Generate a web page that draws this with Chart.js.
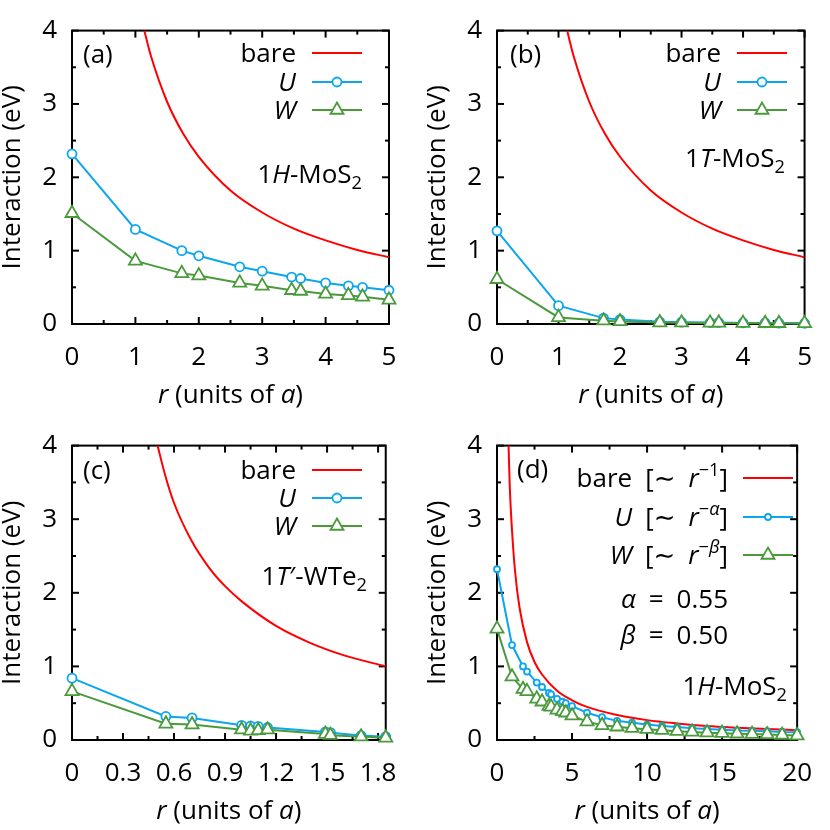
<!DOCTYPE html>
<html>
<head>
<meta charset="utf-8">
<script src="https://cdn.jsdelivr.net/npm/chart.js@4.4.1/dist/chart.umd.min.js"></script>
<style>
  html, body { margin: 0; padding: 0; background: #fff; }
  #fig { position: relative; width: 830px; height: 830px; }
  #fig canvas { position: absolute; }
</style>
</head>
<body>
<div id="fig">
  <canvas id="pa" width="415" height="415" style="left:0;top:0"></canvas>
  <canvas id="pb" width="415" height="415" style="left:415px;top:0"></canvas>
  <canvas id="pc" width="415" height="415" style="left:0;top:415px"></canvas>
  <canvas id="pd" width="415" height="415" style="left:415px;top:415px"></canvas>
</div>
<script>
// Four gnuplot-style panels: bare / U / W interaction vs distance r.

const FAMILY = '"Open Sans", "DejaVu Sans", sans-serif';
const FS = 26;
const RED = "#ff0000";
const BLUE = "#0ca6ef";
const GREEN = "#4a9a3b";

// neighbour distances (units of a)
const rHex = [0, 1, 1.732, 2, 2.646, 3, 3.464, 3.606, 4, 4.359, 4.583, 5];
const rFar = [6, 7, 8, 9, 10, 11, 12, 13, 14, 15, 16, 17, 18, 19, 20];
const rWTe2 = [0, 0.552, 0.706, 0.997, 1.05, 1.095, 1.15, 1.49, 1.52, 1.70, 1.845];

// (a) 1H-MoS2
const uHMoS2 = [2.32, 1.29, 1.00, 0.93, 0.78, 0.72, 0.64, 0.62, 0.56, 0.52, 0.50, 0.46];
const wHMoS2 = [1.51, 0.86, 0.69, 0.66, 0.56, 0.52, 0.46, 0.45, 0.41, 0.39, 0.37, 0.33];
// (b) 1T-MoS2
const uTMoS2 = [1.27, 0.25, 0.08, 0.06, 0.03, 0.025, 0.02, 0.02, 0.015, 0.015, 0.012, 0.01];
const wTMoS2 = [0.61, 0.09, 0.045, 0.035, 0.02, 0.018, 0.015, 0.015, 0.012, 0.01, 0.01, 0.008];
// (c) 1T'-WTe2
const uWTe2 = [0.84, 0.32, 0.30, 0.20, 0.19, 0.185, 0.17, 0.11, 0.10, 0.06, 0.045];
const wWTe2 = [0.66, 0.22, 0.21, 0.14, 0.125, 0.13, 0.14, 0.08, 0.065, 0.045, 0.03];
// (d) 1H-MoS2 out to r = 20
const uFar = [0.37, 0.31, 0.26, 0.235, 0.21, 0.19, 0.175, 0.16, 0.15, 0.14, 0.13, 0.125, 0.12, 0.11, 0.105];
const wFar = [0.25, 0.20, 0.18, 0.16, 0.147, 0.133, 0.12, 0.11, 0.10, 0.093, 0.085, 0.08, 0.075, 0.068, 0.06];

// bare Coulomb curves
const bareMoS2R = [1.14, 1.25, 1.5, 1.75, 2, 2.5, 3, 3.5, 4, 4.5, 5];
const bareMoS2V = [4.0, 3.64, 3.03, 2.6, 2.28, 1.82, 1.52, 1.3, 1.14, 1.01, 0.91];
const bareWTe2R = [0.503, 0.55, 0.6, 0.7, 0.8, 0.9, 1.0, 1.2, 1.4, 1.6, 1.845];
const bareWTe2V = [4.0, 3.58, 3.22, 2.72, 2.36, 2.09, 1.88, 1.55, 1.32, 1.15, 1.0];
const bareFarR = [0.77, 0.85, 1, 1.2, 1.5, 2, 2.5, 3, 4, 5, 6, 8, 10, 12, 14, 16, 18, 20];
const bareFarV = [4.0, 3.45, 2.85, 2.3, 1.8, 1.33, 1.06, 0.89, 0.67, 0.54, 0.45, 0.34, 0.27, 0.225, 0.19, 0.167, 0.148, 0.133];

// tick values
const yTicks = [0, 1, 2, 3, 4];
const xTicksMoS2 = [0, 1, 2, 3, 4, 5];
const xTicksWTe2 = [0, 0.3, 0.6, 0.9, 1.2, 1.5, 1.8];
const xTicksFar = [0, 5, 10, 15, 20];

// text pieces: [text, flags] with i = italic, b = subscript, p = superscript
const SP = "\u2002";
const X_TITLE = [["r", "i"], [" (units of "], ["a", "i"], [")"]];
const LEGEND_SHORT = [[["bare"]], [["U", "i"]], [["W", "i"]]];
const LEGEND_LONG = [
  [["bare" + SP + "[∼" + SP], ["r", "i"], ["−1", "p"], ["]"]],
  [["U", "i"], [SP + "[∼" + SP], ["r", "i"], ["−", "p"], ["α", "ip"], ["]"]],
  [["W", "i"], [SP + "[∼" + SP], ["r", "i"], ["−", "p"], ["β", "ip"], ["]"]],
];

const pts = (xs, ys) => xs.map((x, i) => ({ x, y: ys[i] }));

function drawRich(ctx, segs, x, y, align) {
  const parts = segs.map(([t, f = ""]) => {
    const small = f.includes("b") || f.includes("p");
    const size = small ? FS * 0.7 : FS;
    const font = `${f.includes("i") ? "italic " : ""}${size}px ${FAMILY}`;
    ctx.font = font;
    const dy = f.includes("b") ? FS * 0.22 : f.includes("p") ? -FS * 0.42 : 0;
    return { t, font, dy, w: ctx.measureText(t).width };
  });
  const total = parts.reduce((s, p) => s + p.w, 0);
  let cx = align === "right" ? x - total : align === "center" ? x - total / 2 : x;
  ctx.textAlign = "left";
  ctx.textBaseline = "alphabetic";
  parts.forEach((p) => {
    ctx.font = p.font;
    ctx.fillText(p.t, cx, y + p.dy);
    cx += p.w;
  });
}

/** Border box with inward major/minor ticks on all four sides. */
const frameTicks = {
  id: "frameTicks",
  beforeDatasetsDraw(chart) {
    const { ctx, chartArea: a, scales } = chart;
    ctx.save();
    ctx.strokeStyle = "#000";
    ctx.lineWidth = 2;
    const seg = (x0, y0, x1, y1) => {
      ctx.beginPath();
      ctx.moveTo(x0, y0);
      ctx.lineTo(x1, y1);
      ctx.stroke();
    };
    ["x", "y"].forEach((id) => {
      const s = scales[id];
      const vals = s.ticks.map((t) => t.value);
      const half = (vals[1] - vals[0]) / 2;
      const marks = [];
      vals.forEach((v) => {
        marks.push([v, 7]);
        if (v + half <= s.max + 1e-9) marks.push([v + half, 4]);
      });
      marks.forEach(([v, len]) => {
        const p = s.getPixelForValue(v);
        if (id === "x") {
          seg(p, a.bottom, p, a.bottom - len);
          seg(p, a.top, p, a.top + len);
        } else {
          seg(a.left, p, a.left + len, p);
          seg(a.right, p, a.right - len, p);
        }
      });
    });
    ctx.strokeRect(a.left, a.top, a.right - a.left, a.bottom - a.top);
    ctx.restore();
  },
};

/** Panel tag, x title, gnuplot-like legend (text left of sample) and notes. */
const figureText = {
  id: "figureText",
  afterDraw(chart, _args, o) {
    const { ctx, chartArea: a } = chart;
    ctx.save();
    ctx.fillStyle = "#000";
    drawRich(ctx, [[o.tag]], o.tagX, o.tagY, "left");
    drawRich(ctx, X_TITLE, (a.left + a.right) / 2, o.titleY, "center");
    chart.data.datasets.forEach((ds, i) => {
      const yc = o.rows[i];
      ctx.fillStyle = "#000";
      drawRich(ctx, o.labels[i], o.textRight, yc + 9, "right");
      ctx.strokeStyle = ds.borderColor;
      ctx.lineWidth = ds.borderWidth;
      ctx.beginPath();
      ctx.moveTo(o.line[0], yc);
      ctx.lineTo(o.line[1], yc);
      ctx.stroke();
      if (ds.pointRadius > 0) {
        ctx.fillStyle = ds.pointBackgroundColor;
        ctx.strokeStyle = ds.pointBorderColor;
        ctx.lineWidth = ds.pointBorderWidth;
        Chart.helpers.drawPoint(ctx, {
          pointStyle: ds.pointStyle, radius: ds.pointRadius,
          borderWidth: ds.pointBorderWidth, rotation: 0,
        }, (o.line[0] + o.line[1]) / 2, yc);
      }
    });
    ctx.fillStyle = "#000";
    o.notes.forEach((n) => drawRich(ctx, n.segs, n.x, n.y, "right"));
    ctx.restore();
  },
};

function panel(id, p) {
  const axisFont = { family: FAMILY, size: FS };
  return new Chart(document.getElementById(id), {
    type: "line",
    data: {
      datasets: [
        {
          data: pts(p.bareR, p.bareV),
          borderColor: RED, borderWidth: 2, pointRadius: 0,
          cubicInterpolationMode: "monotone", order: 3,
        },
        {
          data: pts(p.r, p.u),
          borderColor: BLUE, borderWidth: 2,
          pointStyle: "circle", pointRadius: p.circle,
          pointBorderWidth: 1.8, pointBorderColor: BLUE, pointBackgroundColor: "#fff",
          clip: false, order: 2,
        },
        {
          data: pts(p.r, p.w),
          borderColor: GREEN, borderWidth: 2,
          pointStyle: "triangle", pointRadius: 7.5,
          pointBorderWidth: 1.8, pointBorderColor: GREEN, pointBackgroundColor: "#fff",
          clip: false, order: 1,
        },
      ],
    },
    options: {
      responsive: false,
      animation: false,
      devicePixelRatio: 1,
      events: [],
      layout: { padding: p.pad },
      plugins: { legend: { display: false }, tooltip: { enabled: false }, figureText: p.text },
      scales: {
        x: {
          type: "linear", min: 0, max: p.xMax, bounds: "data",
          afterBuildTicks: (s) => { s.ticks = p.xTicks.map((value) => ({ value })); },
          afterFit: (s) => { s.height = p.xH; },
          ticks: { font: axisFont, color: "#000", padding: 18, maxRotation: 0, callback: (v) => String(v) },
          grid: { display: false, drawTicks: false },
          border: { display: false },
        },
        y: {
          type: "linear", min: 0, max: 4,
          afterBuildTicks: (s) => { s.ticks = yTicks.map((value) => ({ value })); },
          afterFit: (s) => { s.width = 72; },
          ticks: { font: axisFont, color: "#000", padding: 15, callback: (v) => String(v) },
          grid: { display: false, drawTicks: false },
          border: { display: false },
          title: {
            display: true, text: "Interaction (eV)", color: "#000",
            font: { family: FAMILY, size: FS, lineHeight: 1 }, padding: 0,
          },
        },
      },
    },
    plugins: [frameTicks, figureText],
  });
}

panel("pa", {
  r: rHex, u: uHMoS2, w: wHMoS2, bareR: bareMoS2R, bareV: bareMoS2V,
  xMax: 5, xTicks: xTicksMoS2, xH: 91, circle: 4.5,
  pad: { left: 0, right: 26, top: 24, bottom: 0 },
  text: {
    tag: "(a)", tagX: 83, tagY: 63, titleY: 403,
    rows: [53, 82, 110], textRight: 296, line: [312, 362], labels: LEGEND_SHORT,
    notes: [{ segs: [["1"], ["H", "i"], ["-MoS"], ["2", "b"]], x: 362, y: 183 }],
  },
});

panel("pb", {
  r: rHex, u: uTMoS2, w: wTMoS2, bareR: bareMoS2R, bareV: bareMoS2V,
  xMax: 5, xTicks: xTicksMoS2, xH: 91, circle: 4.5,
  pad: { left: 10, right: 15, top: 24, bottom: 0 },
  text: {
    tag: "(b)", tagX: 95, tagY: 63, titleY: 403,
    rows: [53, 82, 110], textRight: 306, line: [322, 372], labels: LEGEND_SHORT,
    notes: [{ segs: [["1"], ["T", "i"], ["-MoS"], ["2", "b"]], x: 370, y: 167 }],
  },
});

panel("pc", {
  r: rWTe2, u: uWTe2, w: wWTe2, bareR: bareWTe2R, bareV: bareWTe2V,
  xMax: 1.845, xTicks: xTicksWTe2, xH: 90, circle: 4.5,
  pad: { left: 0, right: 26, top: 25, bottom: 0 },
  text: {
    tag: "(c)", tagX: 83, tagY: 64, titleY: 404,
    rows: [55, 83, 111], textRight: 296, line: [312, 362], labels: LEGEND_SHORT,
    notes: [{ segs: [["1"], ["T", "i"], ["′-WTe"], ["2", "b"]], x: 367, y: 170 }],
  },
});

panel("pd", {
  r: rHex.concat(rFar), u: uHMoS2.concat(uFar), w: wHMoS2.concat(wFar),
  bareR: bareFarR, bareV: bareFarV,
  xMax: 20, xTicks: xTicksFar, xH: 90, circle: 3,
  pad: { left: 10, right: 15, top: 25, bottom: 0 },
  text: {
    tag: "(d)", tagX: 102, tagY: 63, titleY: 404,
    rows: [63, 102, 140], textRight: 313, line: [328, 378], labels: LEGEND_LONG,
    notes: [
      { segs: [["α", "i"], [SP + "=" + SP + "0.55"]], x: 313, y: 193 },
      { segs: [["β", "i"], [SP + "=" + SP + "0.50"]], x: 313, y: 229 },
      { segs: [["1"], ["H", "i"], ["-MoS"], ["2", "b"]], x: 372, y: 280 },
    ],
  },
});
</script>
</body>
</html>
